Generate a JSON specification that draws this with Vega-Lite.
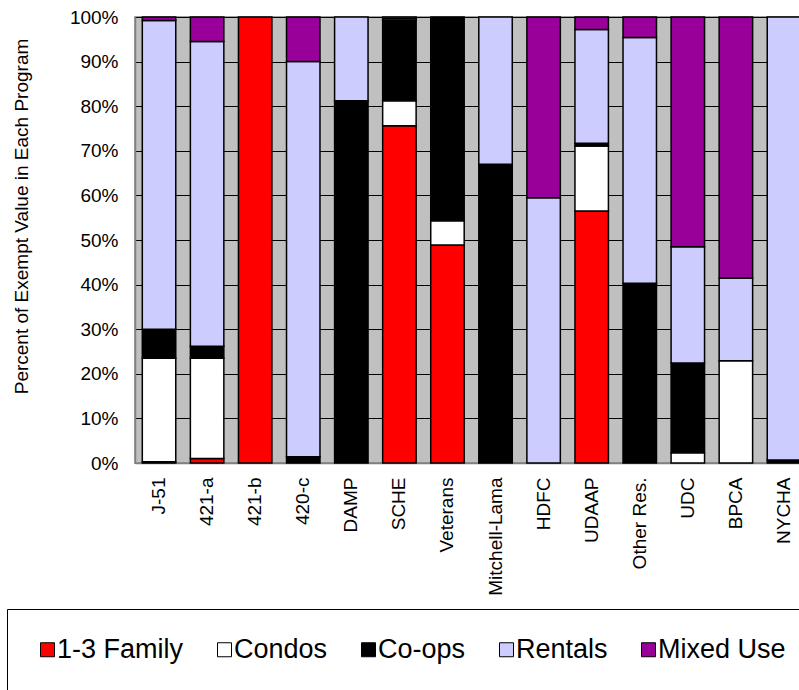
{
  "$schema": "https://vega.github.io/schema/vega-lite/v6.json",
  "width": 664,
  "height": 446,
  "autosize": {"type": "none"},
  "padding": {"left": 135, "top": 17, "right": 0, "bottom": 227},
  "background": "white",
  "config": {
    "view": {"fill": "#C0C0C0", "stroke": "#808080", "strokeWidth": 1.5},
    "font": "Liberation Sans, Arial, sans-serif"
  },
  "data": {
    "values": [
      {"program": "J-51", "type": "1-3 Family", "pct": 0.3},
      {"program": "J-51", "type": "Condos", "pct": 23.2},
      {"program": "J-51", "type": "Co-ops", "pct": 6.5},
      {"program": "J-51", "type": "Rentals", "pct": 69.2},
      {"program": "J-51", "type": "Mixed Use", "pct": 0.8},
      {"program": "421-a", "type": "1-3 Family", "pct": 1.0},
      {"program": "421-a", "type": "Condos", "pct": 22.5},
      {"program": "421-a", "type": "Co-ops", "pct": 2.7},
      {"program": "421-a", "type": "Rentals", "pct": 68.3},
      {"program": "421-a", "type": "Mixed Use", "pct": 5.5},
      {"program": "421-b", "type": "1-3 Family", "pct": 100},
      {"program": "420-c", "type": "Co-ops", "pct": 1.4},
      {"program": "420-c", "type": "Rentals", "pct": 88.6},
      {"program": "420-c", "type": "Mixed Use", "pct": 10.0},
      {"program": "DAMP", "type": "Co-ops", "pct": 81.2},
      {"program": "DAMP", "type": "Rentals", "pct": 18.8},
      {"program": "SCHE", "type": "1-3 Family", "pct": 75.6},
      {"program": "SCHE", "type": "Condos", "pct": 5.6},
      {"program": "SCHE", "type": "Co-ops", "pct": 18.0},
      {"program": "SCHE", "type": "Rentals", "pct": 0.4},
      {"program": "SCHE", "type": "Mixed Use", "pct": 0.4},
      {"program": "Veterans", "type": "1-3 Family", "pct": 48.9},
      {"program": "Veterans", "type": "Condos", "pct": 5.4},
      {"program": "Veterans", "type": "Co-ops", "pct": 45.2},
      {"program": "Veterans", "type": "Rentals", "pct": 0.3},
      {"program": "Veterans", "type": "Mixed Use", "pct": 0.2},
      {"program": "Mitchell-Lama", "type": "Co-ops", "pct": 67.0},
      {"program": "Mitchell-Lama", "type": "Rentals", "pct": 33.0},
      {"program": "HDFC", "type": "Rentals", "pct": 59.5},
      {"program": "HDFC", "type": "Mixed Use", "pct": 40.5},
      {"program": "UDAAP", "type": "1-3 Family", "pct": 56.5},
      {"program": "UDAAP", "type": "Condos", "pct": 14.6},
      {"program": "UDAAP", "type": "Co-ops", "pct": 0.6},
      {"program": "UDAAP", "type": "Rentals", "pct": 25.5},
      {"program": "UDAAP", "type": "Mixed Use", "pct": 2.8},
      {"program": "Other Res.", "type": "Co-ops", "pct": 40.3},
      {"program": "Other Res.", "type": "Rentals", "pct": 55.1},
      {"program": "Other Res.", "type": "Mixed Use", "pct": 4.6},
      {"program": "UDC", "type": "Condos", "pct": 2.3},
      {"program": "UDC", "type": "Co-ops", "pct": 20.1},
      {"program": "UDC", "type": "Rentals", "pct": 26.1},
      {"program": "UDC", "type": "Mixed Use", "pct": 51.5},
      {"program": "BPCA", "type": "Condos", "pct": 22.9},
      {"program": "BPCA", "type": "Rentals", "pct": 18.6},
      {"program": "BPCA", "type": "Mixed Use", "pct": 58.5},
      {"program": "NYCHA", "type": "Co-ops", "pct": 0.7},
      {"program": "NYCHA", "type": "Rentals", "pct": 99.3}
    ]
  },
  "transform": [
    {"calculate": "indexof(['1-3 Family', 'Condos', 'Co-ops', 'Rentals', 'Mixed Use'], datum.type)", "as": "stackOrder"}
  ],
  "mark": {"type": "bar", "stroke": "black", "strokeWidth": 1.5},
  "encoding": {
    "x": {
      "field": "program",
      "type": "nominal",
      "sort": ["J-51", "421-a", "421-b", "420-c", "DAMP", "SCHE", "Veterans", "Mitchell-Lama", "HDFC", "UDAAP", "Other Res.", "UDC", "BPCA", "NYCHA"],
      "scale": {"range": [0, 673], "paddingInner": 0.304, "paddingOuter": 0.152},
      "axis": {
        "title": null,
        "labelAngle": -90,
        "labelAlign": "right",
        "labelBaseline": "middle",
        "labelFontSize": 19,
        "labelColor": "black",
        "labelPadding": 14,
        "ticks": false,
        "grid": false,
        "domainColor": "#808080",
        "domainWidth": 1.5,
        "labelLimit": 300
      }
    },
    "y": {
      "field": "pct",
      "type": "quantitative",
      "stack": "normalize",
      "scale": {"domain": [0, 1], "nice": false},
      "axis": {
        "values": [0, 0.1, 0.2, 0.3, 0.4, 0.5, 0.6, 0.7, 0.8, 0.9, 1],
        "format": ".0%",
        "grid": true,
        "gridColor": "black",
        "gridWidth": 1.2,
        "gridOpacity": 1,
        "ticks": false,
        "domainColor": "#808080",
        "domainWidth": 1.5,
        "labelFontSize": 19,
        "labelColor": "black",
        "labelPadding": 17,
        "title": "Percent of Exempt Value in Each Program",
        "titleFontSize": 19,
        "titleFontWeight": "normal",
        "titleColor": "black",
        "titleAngle": -90,
        "titleX": -114,
        "titleY": 199,
        "titleAlign": "center",
        "titleBaseline": "middle"
      }
    },
    "order": {"field": "stackOrder", "type": "quantitative", "sort": "ascending"},
    "color": {
      "field": "type",
      "type": "nominal",
      "scale": {
        "domain": ["1-3 Family", "Condos", "Co-ops", "Rentals", "Mixed Use"],
        "range": ["#FF0000", "#FFFFFF", "#000000", "#CCCCFF", "#990099"]
      },
      "legend": {
        "title": null,
        "orient": "none",
        "legendX": -128,
        "legendY": 592,
        "direction": "horizontal",
        "symbolType": "square",
        "symbolSize": 196,
        "symbolStrokeColor": "black",
        "symbolStrokeWidth": 1,
        "symbolOpacity": 1,
        "labelFontSize": 27,
        "labelColor": "black",
        "labelOffset": -4,
        "labelLimit": 300,
        "columnPadding": 27,
        "padding": 27,
        "strokeColor": "black"
      }
    }
  }
}
